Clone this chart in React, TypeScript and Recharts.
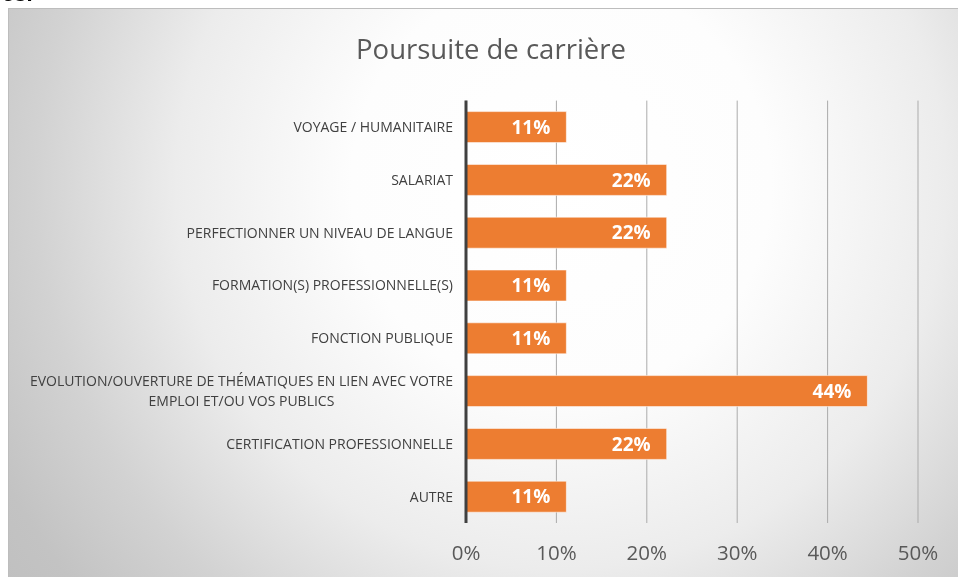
import { BarChart, Bar, XAxis, YAxis, CartesianGrid, LabelList } from "recharts";

// ─── Data ────────────────────────────────────────────────────────────────────

const TITLE = "Poursuite de carrière";

const categories = [
  "VOYAGE / HUMANITAIRE",
  "SALARIAT",
  "PERFECTIONNER UN NIVEAU DE LANGUE",
  "FORMATION(S) PROFESSIONNELLE(S)",
  "FONCTION PUBLIQUE",
  "EVOLUTION/OUVERTURE DE THÉMATIQUES EN LIEN AVEC VOTRE EMPLOI ET/OU VOS PUBLICS",
  "CERTIFICATION PROFESSIONNELLE",
  "AUTRE",
];

const shares = [11.1, 22.2, 22.2, 11.1, 11.1, 44.4, 22.2, 11.1];

const xTicks = [0, 10, 20, 30, 40, 50];

const chartData = categories.map((name, i) => ({ name, value: shares[i] }));

// ─── Helpers ─────────────────────────────────────────────────────────────────

const FONT = "'Open Sans', 'Noto Sans', sans-serif";
const LABEL_FONT_SIZE = 14;

let measureCtx: CanvasRenderingContext2D | null = null;
function textWidth(s: string): number {
  if (!measureCtx) measureCtx = document.createElement("canvas").getContext("2d");
  if (!measureCtx) return s.length * 8.3;
  measureCtx.font = `${LABEL_FONT_SIZE}px ${FONT}`;
  return measureCtx.measureText(s).width;
}

function wrap(label: string, maxWidth: number): string[] {
  const words = label.split(" ");
  const lines: string[] = [];
  let cur = "";
  for (const w of words) {
    const next = cur ? `${cur} ${w}` : w;
    if (cur && textWidth(next) > maxWidth) {
      lines.push(cur);
      cur = w;
    } else {
      cur = next;
    }
  }
  if (cur) lines.push(cur);
  return lines;
}

// Excel-style: wrapped lines are centred on each other, block is right-aligned
function CategoryTick({ x, y, payload }: any) {
  const lines = wrap(payload.value, 440);
  const widths = lines.map(textWidth);
  const blockW = Math.max(...widths);
  const cx = x - blockW / 2;
  const lineH = 20;
  const y0 = y - ((lines.length - 1) * lineH) / 2;
  return (
    <g>
      {lines.map((ln, i) => (
        <text
          key={i}
          x={lines.length > 1 ? cx : x}
          y={y0 + i * lineH}
          dy="0.35em"
          textAnchor={lines.length > 1 ? "middle" : "end"}
          fontFamily={FONT}
          fontSize={LABEL_FONT_SIZE}
          fill="#404040"
        >
          {ln}
        </text>
      ))}
    </g>
  );
}

// ─── Main component ──────────────────────────────────────────────────────────

export default function App() {
  return (
    <>
      {/* cropped text from the page above the chart */}
      <div
        style={{
          position: "fixed",
          left: 2,
          top: -19,
          fontFamily: "'Liberation Sans', sans-serif",
          fontWeight: 700,
          fontSize: 22,
          color: "#000",
        }}
      >
        es.
      </div>

      <div
        style={{
          position: "fixed",
          left: 8,
          top: 8,
          width: 952,
          height: 571,
          boxSizing: "border-box",
          border: "1px solid #bdbdbd",
          background:
            "radial-gradient(circle 700px at 552px 175px, #ffffff 0%, #fdfdfd 30%, #ececec 55%, #d2d2d2 75%, #c3c3c3 90%, #bfbfbf 100%)",
          overflow: "hidden",
        }}
      >
        <div
          style={{
            position: "absolute",
            left: 282,
            top: 21,
            width: 400,
            textAlign: "center",
            fontFamily: FONT,
            fontSize: 27.5,
            color: "#595959",
          }}
        >
          {TITLE}
        </div>

        <div style={{ position: "absolute", left: -1, top: -1 }}>
          <BarChart
            layout="vertical"
            width={950}
            height={569}
            data={chartData}
            margin={{ top: 92.6, right: 40, bottom: 14, left: 0 }}
            barSize={31}
          >
            <CartesianGrid horizontal={false} stroke="#ababab" strokeWidth={1} />
            <XAxis
              type="number"
              domain={[0, 50]}
              ticks={xTicks}
              tickFormatter={(v: number) => `${v}%`}
              axisLine={false}
              tickLine={false}
              tickSize={0}
              tickMargin={22}
              height={40}
              tick={{ fontFamily: FONT, fontSize: 20.5, fill: "#595959" }}
            />
            <YAxis
              type="category"
              dataKey="name"
              width={458}
              axisLine={{ stroke: "#404040", strokeWidth: 3 }}
              tickLine={false}
              tickSize={0}
              tickMargin={13}
              interval={0}
              tick={<CategoryTick />}
            />
            <Bar
              dataKey="value"
              fill="#ED7D31"
              stroke="rgba(255,255,255,0.55)"
              strokeWidth={1}
              isAnimationActive={false}
            >
              <LabelList
                dataKey="value"
                position="insideRight"
                offset={16}
                formatter={(v: number) => `${Math.round(v)}%`}
                fill="#ffffff"
                fontFamily={FONT}
                fontWeight={700}
                fontSize={19}
              />
            </Bar>
          </BarChart>
        </div>
      </div>
    </>
  );
}
